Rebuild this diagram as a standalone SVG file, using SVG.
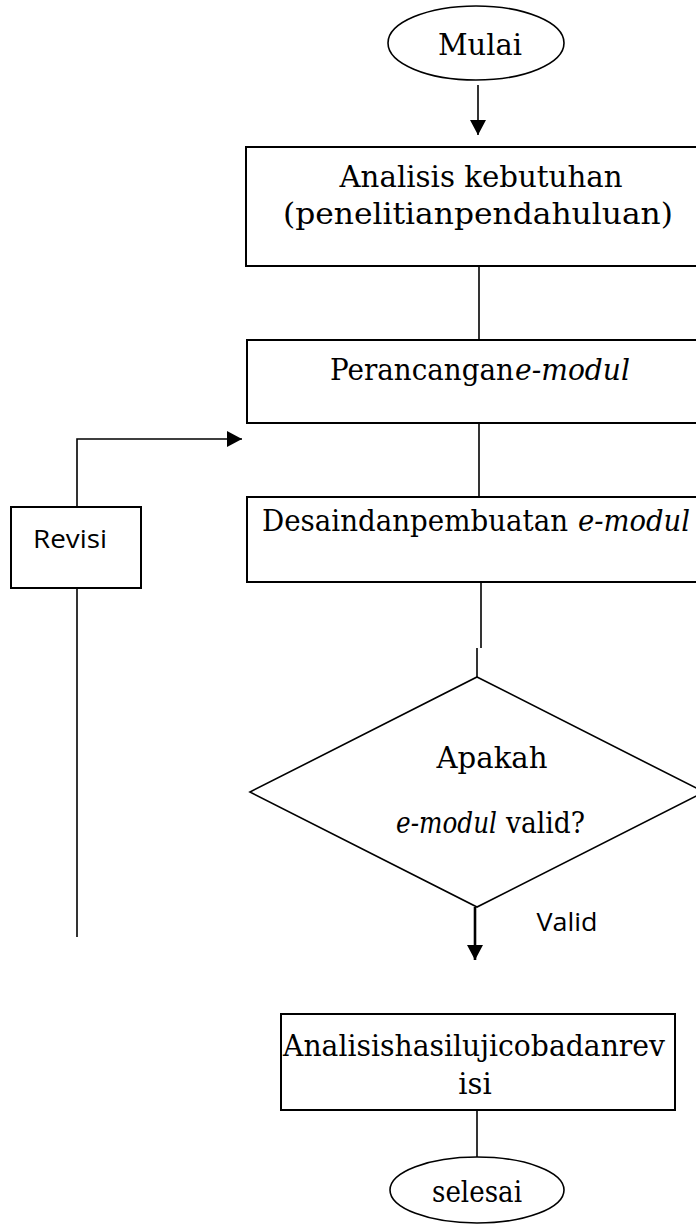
<svg xmlns="http://www.w3.org/2000/svg" width="696" height="1227" viewBox="0 0 696 1227">
<style>
.box{fill:#fff;stroke:#000;stroke-width:2}
.shape{fill:#fff;stroke:#000;stroke-width:1.6}
.ln{fill:none;stroke:#000;stroke-width:1.6}
.ser{font-family:"DejaVu Serif","Liberation Serif",serif;font-size:29px;fill:#000;text-anchor:middle}
.st{text-anchor:start}
.sans{font-family:"Open Sans","Liberation Sans",sans-serif;font-size:26px;fill:#000;text-anchor:middle}
.it{font-style:italic}
</style>
<defs>
<marker id="ah" markerWidth="16" markerHeight="16" refX="15" refY="8" orient="auto" markerUnits="userSpaceOnUse">
<path d="M0,0 L15,8 L0,16 Z" fill="#000"/>
</marker>
</defs>
<g id="connectors">
<line class="ln" x1="478" y1="85" x2="478" y2="135" marker-end="url(#ah)"/>
<line class="ln" x1="479" y1="266" x2="479" y2="340"/>
<line class="ln" x1="479" y1="423" x2="479" y2="497"/>
<line class="ln" x1="481" y1="582" x2="481" y2="648"/>
<line class="ln" x1="477" y1="648" x2="477" y2="677"/>
<line x1="475" y1="907" x2="475" y2="960" stroke="#000" stroke-width="2.6" marker-end="url(#ah)"/>
<line class="ln" x1="477" y1="1110" x2="477" y2="1157"/>
<polyline class="ln" points="77,507 77,439 242,439" marker-end="url(#ah)"/>
<line class="ln" x1="77" y1="588" x2="77" y2="937"/>
<text class="sans" x="567" y="931" textLength="61" lengthAdjust="spacingAndGlyphs">Valid</text>
</g>
<g id="mulai">
<ellipse class="shape" cx="476" cy="43" rx="88" ry="37"/>
<text class="ser" x="480" y="55" textLength="84" lengthAdjust="spacingAndGlyphs">Mulai</text>
</g>
<g id="analisis">
<rect class="box" x="246" y="147" width="470" height="119"/>
<text class="ser" x="481" y="187" textLength="283" lengthAdjust="spacingAndGlyphs">Analisis kebutuhan</text>
<text class="ser" x="478" y="224" textLength="390" lengthAdjust="spacingAndGlyphs">(penelitianpendahuluan)</text>
</g>
<g id="perancangan">
<rect class="box" x="247" y="340" width="470" height="83"/>
<text class="ser st" x="330" y="380" textLength="184" lengthAdjust="spacingAndGlyphs">Perancangan</text>
<text class="ser st it" x="515" y="380" textLength="115" lengthAdjust="spacingAndGlyphs">e-modul</text>
</g>
<g id="desain">
<rect class="box" x="247" y="497" width="470" height="85"/>
<text class="ser st" x="262" y="531" textLength="306" lengthAdjust="spacingAndGlyphs">Desaindanpembuatan</text>
<text class="ser st it" x="578" y="531" textLength="112" lengthAdjust="spacingAndGlyphs">e-modul</text>
</g>
<g id="valid">
<polygon class="shape" points="477,677 704,792 477,907 250,792"/>
<text class="ser" x="492" y="768" textLength="111" lengthAdjust="spacingAndGlyphs">Apakah</text>
<text class="ser st it" x="396" y="833" font-size="24" textLength="101" lengthAdjust="spacingAndGlyphs">e-modul</text>
<text class="ser st" x="506" y="833" textLength="79" lengthAdjust="spacingAndGlyphs">valid?</text>
</g>
<g id="revisi">
<rect class="box" x="11" y="507" width="130" height="81"/>
<text class="sans" x="70" y="548" textLength="74" lengthAdjust="spacingAndGlyphs">Revisi</text>
</g>
<g id="hasil">
<rect class="box" x="281" y="1014" width="394" height="96"/>
<text class="ser" x="474" y="1056" textLength="382" lengthAdjust="spacingAndGlyphs">Analisishasilujicobadanrev</text>
<text class="ser" x="475" y="1094">isi</text>
</g>
<g id="selesai">
<ellipse class="shape" cx="477" cy="1190" rx="87" ry="33"/>
<text class="ser" x="477" y="1202" textLength="90" lengthAdjust="spacingAndGlyphs">selesai</text>
</g>
</svg>
